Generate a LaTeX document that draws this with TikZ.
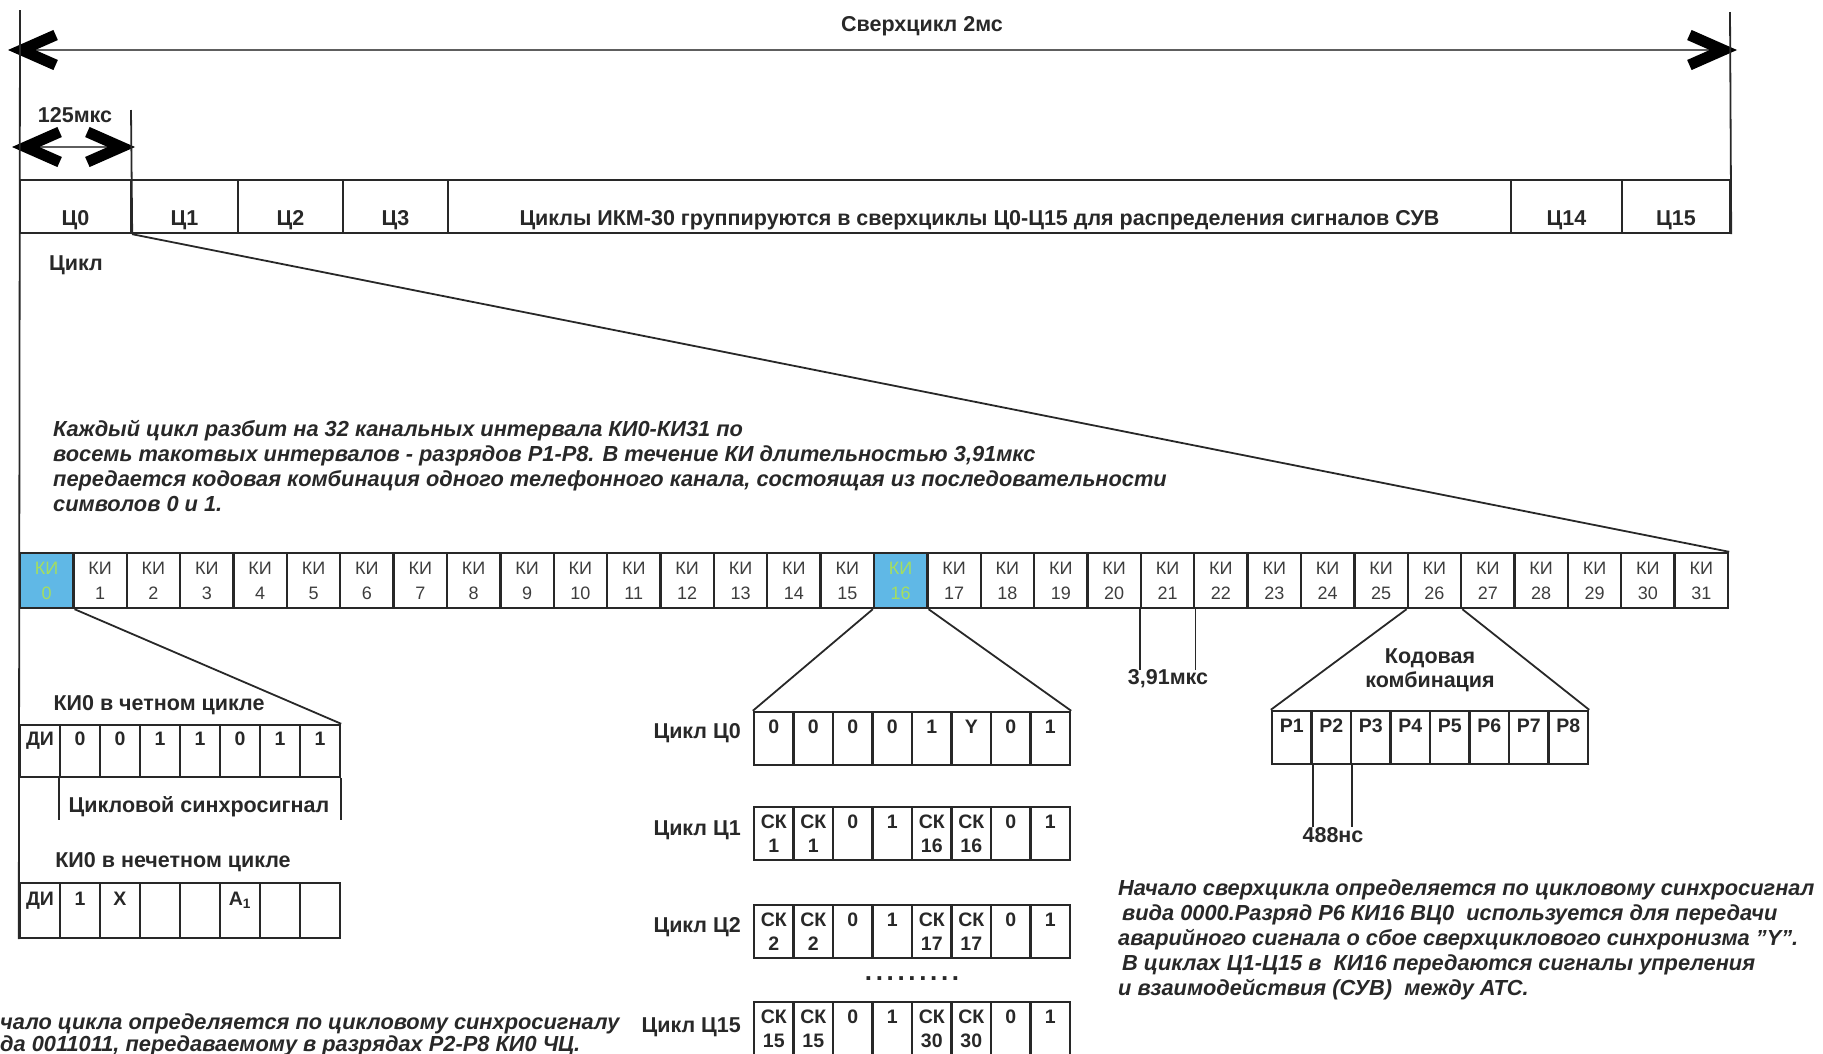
\documentclass[tikz,border=0pt]{standalone}
\usepackage{fontspec}
\setmainfont{Liberation Sans}
\usetikzlibrary{arrows.meta, positioning}
\definecolor{ink}{RGB}{40,40,40}
\definecolor{kiblue}{RGB}{96,184,230}
\definecolor{kigreen}{RGB}{165,222,95}
\tikzset{
    cyclebox/.style={draw=ink, line width=2.4pt, minimum height=53pt, inner sep=0pt, text height=40pt, text depth=3pt},
    kicell/.style={draw=ink, line width=2.4pt, minimum width=53.375pt, minimum height=55pt, inner sep=0pt, align=center, font=\fontsize{18}{25}\selectfont, text=ink!90},
    hot/.style={fill=kiblue, text=kigreen},
    bitcell/.style={draw=ink, line width=2.4pt, minimum width=39.5pt, minimum height=53pt, inner sep=0pt, align=center, font=\bfseries\fontsize{19.5}{24}\selectfont, text=ink},
    guide/.style={draw=ink, line width=1.8pt},
    lbl/.style={font=\bfseries\fontsize{21.5}{24}\selectfont, text=ink, inner sep=0pt, align=center},
    note/.style={font=\bfseries\itshape\fontsize{21.8}{25}\selectfont, text=ink, align=left, inner sep=0pt, anchor=north west},
    chevron/.style={draw=ink!75, line width=2.5pt, >={Straight Barb[length=34pt, width=30pt, line width=11pt, color=black]}, <->}
}
\begin{document}
\begin{tikzpicture}[x=1pt, y=-1pt]
    \useasboundingbox (0,0) rectangle (1823,1053);

    % supercycle
    \node[lbl] (sc) at (922,26) {Сверхцикл 2мс};
    \coordinate (scl) at (8,50);
    \coordinate (scr) at (1737,50);
    \draw[chevron] (scl) -- (scr);
    \coordinate (ltop) at (20,10);
    \coordinate (rtop) at (1730,12);

    \node[cyclebox, lbl, minimum width=111pt] (c0) at (75.5,206.5) {Ц0};
    \node[cyclebox, lbl, minimum width=107pt] (c1) at (184.5,206.5) {Ц1};
    \node[cyclebox, lbl, minimum width=105pt] (c2) at (290.5,206.5) {Ц2};
    \node[cyclebox, lbl, minimum width=105pt] (c3) at (395.5,206.5) {Ц3};
    \node[cyclebox, lbl, minimum width=1063pt] (cx) at (979.5,206.5) {Циклы ИКМ-30 группируются в сверхциклы Ц0-Ц15 для распределения сигналов СУВ};
    \node[cyclebox, lbl, minimum width=111pt] (c14) at (1566.5,206.5) {Ц14};
    \node[cyclebox, lbl, minimum width=108pt] (c15) at (1676,206.5) {Ц15};
    \draw[guide] (rtop) -- (c15.south east);

    % one cycle
    \node[lbl] (t125) at (75,115) {125мкс};
    \coordinate (fl) at (12,147);
    \coordinate (fr) at (135,147);
    \draw[chevron] (fl) -- (fr);
    \coordinate (ftop) at (131,110);
    \draw[guide] (ftop) -- (c0.south east);
    \node[lbl] (cyc) at (76,265) {Цикл};

    \node[note] (par) at (53,420) {Каждый цикл разбит на 32 канальных интервала КИ0-КИ31 по\\
        восемь такотвых интервалов - разрядов Р1-Р8. В течение КИ длительностью 3,91мкс\\
        передается кодовая комбинация одного телефонного канала, состоящая из последовательности\\
        символов 0 и 1.};

    \node[kicell, hot] (ki0) at (46.6875,580.5) {КИ\\0};
    \node[kicell, hot] (ki16) at (900.6875,580.5) {КИ\\16};
    \foreach \i in {1,...,15,17,18,...,31}
        \node[kicell] (ki\i) at ({20+53.375*(\i+0.5)},580.5) {КИ\\\i};
    \draw[guide] (c0.south east) -- (ki31.north east);

    % KI0
    \node[lbl] (evt) at (159,705) {КИ0 в четном цикле};
    \foreach \a [count=\k from 0] in {ДИ,0,0,1,1,0,1,1}
        \node[bitcell, minimum width=40pt, minimum height=52pt] (ev\k) at ({40+40*\k},751) {\a\\\vphantom{0}};
    \node[lbl] (sync) at (199,807) {Цикловой синхросигнал};
    \draw[guide] (ev1.south west) -- ++(0,42);
    \draw[guide] (ev7.south east) -- ++(0,42);
    \node[lbl] (odt) at (173,862) {КИ0 в нечетном цикле};
    \foreach \a [count=\k from 0] in {ДИ,1,X,{},{},А\textsubscript{1},{},{}}
        \node[bitcell, minimum width=40pt, minimum height=55pt] (od\k) at ({40+40*\k},910.5) {\a\\\vphantom{0}};
    \draw[guide] (ki0.south east) -- (ev7.north east);
    \draw[guide] (ltop) -- (od0.south west);
    \node[note, font=\bfseries\itshape\fontsize{21.8}{22}\selectfont] (ncy) at (0,1013) {чало цикла определяется по цикловому синхросигналу\\
        да 0011011, передаваемому в разрядах Р2-Р8 КИ0 ЧЦ.};

    % KI16
    \node[lbl, anchor=east] (l0) at (741,733) {Цикл Ц0};
    \foreach \a [count=\k from 0] in {0,0,0,0,1,Y,0,1}
        \node[bitcell] (za\k) at ({773.75+39.5*\k},738.5) {\a\\\vphantom{0}};
    \node[lbl, anchor=east] (l1) at (741,830) {Цикл Ц1};
    \foreach \a/\b [count=\k from 0] in {СК/1,СК/1,0/,1/,СК/16,СК/16,0/,1/}
        \node[bitcell] (zb\k) at ({773.75+39.5*\k},833.5) {\a\\\vphantom{0}\b};
    \node[lbl, anchor=east] (l2) at (741,927) {Цикл Ц2};
    \foreach \a/\b [count=\k from 0] in {СК/2,СК/2,0/,1/,СК/17,СК/17,0/,1/}
        \node[bitcell] (zc\k) at ({773.75+39.5*\k},931.5) {\a\\\vphantom{0}\b};
    \node[lbl, font=\bfseries\fontsize{26}{26}\selectfont] (dots) at (912,979) {\addfontfeature{LetterSpace=14}.........};
    \node[lbl, anchor=east] (l15) at (741,1027) {Цикл Ц15};
    \foreach \a/\b [count=\k from 0] in {СК/15,СК/15,0/,1/,СК/30,СК/30,0/,1/}
        \node[bitcell] (zd\k) at ({773.75+39.5*\k},1028.5) {\a\\\vphantom{0}\b};
    \draw[guide] (ki16.south west) -- (za0.north west);
    \draw[guide] (ki16.south east) -- (za7.north east);

    % KI21
    \node[lbl] (t391) at (1168,679) {3,91мкс};
    \draw[guide] (ki21.south west) -- (ki21.south west |- t391.north);
    \draw[guide] (ki21.south east) -- (ki21.south east |- t391.north);

    % KI26
    \node[lbl] (kod) at (1430,670) {Кодовая\\комбинация};
    \foreach \k in {1,...,8}
        \node[bitcell] (pr\k) at ({1252.25+39.5*\k},737.5) {Р\k\\\vphantom{0}};
    \draw[guide] (ki26.south west) -- (pr1.north west);
    \draw[guide] (ki26.south east) -- (pr8.north east);
    \node[lbl] (t488) at (1333,835) {488нс};
    \draw[guide] (pr1.south east) -- (pr1.south east |- t488.north);
    \draw[guide] (pr2.south east) -- (pr2.south east |- t488.north);

    \node[note] (nsc) at (1118,879) {Начало сверхцикла определяется по цикловому синхросигнал\\
        \hspace{4pt}вида 0000.Разряд Р6 КИ16 ВЦ0\ \ используется для передачи\\
        аварийного сигнала о сбое сверхциклового синхронизма "Y".\\
        \hspace{4pt}В циклах Ц1-Ц15 в\ \ КИ16 передаются сигналы упреления\\
        и взаимодействия (СУВ)\ \ между АТС.};
\end{tikzpicture}
\end{document}
